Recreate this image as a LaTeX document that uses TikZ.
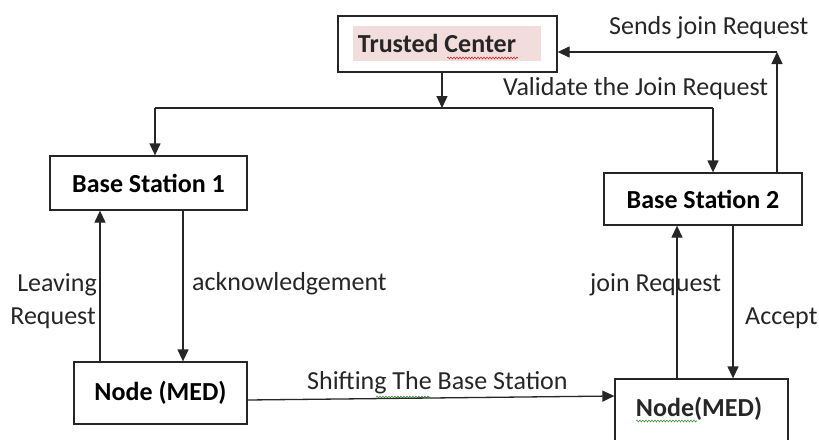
\documentclass[tikz,border=0pt]{standalone}
\usepackage{fontspec}
\setmainfont{Carlito}
\usetikzlibrary{arrows.meta,decorations.pathmorphing}
\definecolor{hl}{RGB}{242,220,220}
\definecolor{sqred}{RGB}{220,40,40}
\definecolor{sqgreen}{RGB}{60,150,60}
\tikzset{
  box/.style={draw=black!85,line width=1.3pt,rectangle,inner sep=0pt,font=\fontsize{26}{30}\selectfont\bfseries},
  lbl/.style={font=\fontsize{26}{30}\selectfont,inner sep=0pt,text=black!85},
  arr/.style={draw=black!85,line width=1.3pt,-{Triangle[length=12pt,width=11pt]}},
  ln/.style={draw=black!85,line width=1.3pt},
  squig/.style={line width=0.6pt,decorate,decoration={snake,segment length=3pt,amplitude=0.9pt}}
}
\begin{document}
\begin{tikzpicture}[x=1pt,y=-1pt]
\useasboundingbox (0,0) rectangle (819,439);
% boxes
\node[box,minimum width=219pt,minimum height=56pt] (TC) at (447.5,44) {};
\fill[hl] (353,26) rectangle (541,61);
\node[lbl,font=\fontsize{26}{30}\selectfont\bfseries] (TCt) at (437,43) {Trusted Center};
\node[box,minimum width=197pt,minimum height=54pt] (BS1) at (148.5,183) {Base Station 1};
\node[box,minimum width=198pt,minimum height=52pt] (BS2) at (703,199) {Base Station 2};
\node[box,minimum width=173pt,minimum height=62pt] (N1) at (160.5,393) {Node (MED)};
\node[box,minimum width=173pt,minimum height=72pt] (N2) at (701.5,415) {};
\node[lbl,font=\fontsize{26}{30}\selectfont\bfseries] (N2t) at (699,409) {Node(MED)};
% squiggles
\draw[squig,sqred] (447,58) -- (518,58);
\draw[squig,sqgreen] (376,397) -- (430,397);
\draw[squig,sqgreen] (636,421) -- (697,421);
% coordinates
\coordinate (jT) at (442,108);
\coordinate (jL) at (155,108);
\coordinate (jR) at (713,108);
\coordinate (c1) at (777,52);
% connectors
\draw[arr] (TC.south -| jT) -- (jT);
\draw[ln] (jL) -- (jR);
\draw[arr] (jL) -- (jL |- BS1.north);
\draw[arr] (jR) -- (jR |- BS2.north);
\draw[arr] (BS2.north -| c1) -- (c1);
\draw[arr] (c1) -- (c1 -| TC.east);
\draw[arr] (N1.north -| 100,0) -- (BS1.south -| 100,0);
\draw[arr] (BS1.south -| 183,0) -- (N1.north -| 183,0);
\draw[arr] (N2.north -| 677,0) -- (BS2.south -| 677,0);
\draw[arr] (BS2.south -| 733,0) -- (N2.north -| 733,0);
\draw[arr] ([yshift=-7pt]N1.east) -- ([yshift=-3pt]N1.east -| N2.west);
% labels
\node[lbl,anchor=west] (l1) at (609,28) {Sends join Request};
\node[lbl,anchor=west] (l2) at (503,89) {Validate the Join Request};
\node[lbl,anchor=east] (l3) at (97,285) {Leaving};
\node[lbl,anchor=east] (l4) at (96,318) {Request};
\node[lbl,anchor=west] (l5) at (192,284) {acknowledgement};
\node[lbl,anchor=west] (l6) at (590,285) {join Request};
\node[lbl,anchor=west] (l7) at (745,318) {Accept};
\node[lbl,anchor=west] (l8) at (307,383) {Shifting The Base Station};
\end{tikzpicture}
\end{document}
